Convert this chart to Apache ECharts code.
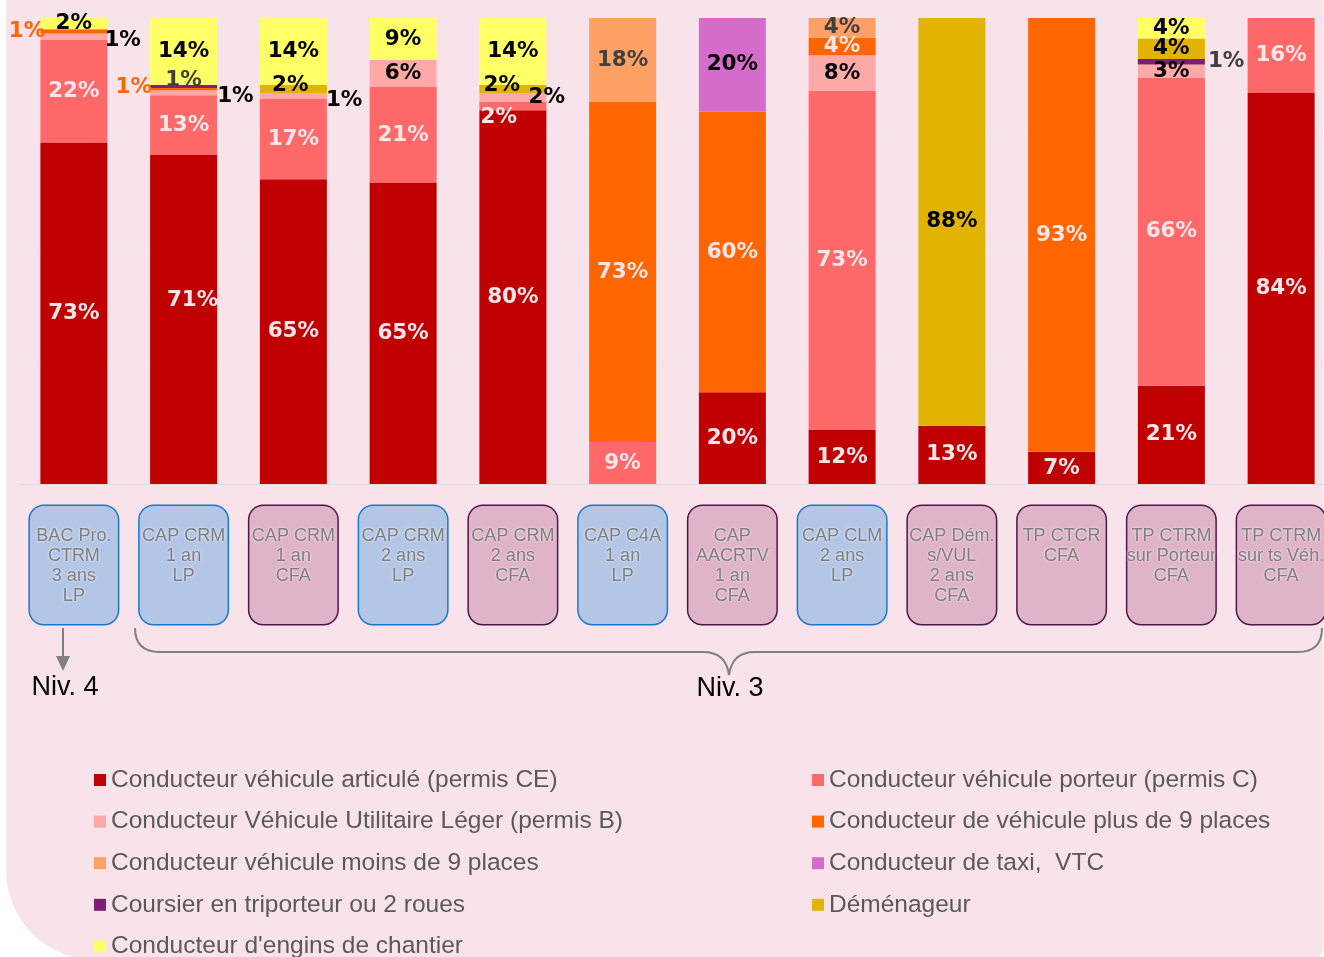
<!DOCTYPE html>
<html><head><meta charset="utf-8">
<script src="https://cdn.jsdelivr.net/npm/echarts@6/dist/echarts.min.js"></script>
<style>html,body{margin:0;padding:0;background:#fff;}#c{width:1324px;height:957px;}</style>
</head><body><div id="c"></div>
<script>
// ---------- data ----------
const categories = ['BAC Pro.\nCTRM\n3 ans\nLP', 'CAP CRM\n1 an\nLP', 'CAP CRM\n1 an\nCFA', 'CAP CRM\n2 ans\nLP', 'CAP CRM\n2 ans\nCFA', 'CAP C4A\n1 an\nLP', 'CAP\nAACRTV\n1 an\nCFA', 'CAP CLM\n2 ans\nLP', 'CAP Dém.\ns/VUL\n2 ans\nCFA', 'TP CTCR\nCFA', 'TP CTRM\nsur Porteur\nCFA', 'TP CTRM\nsur ts Véh.\nCFA'];
const schoolType = ['LP','LP','CFA','LP','CFA','LP','CFA','LP','CFA','CFA','CFA','CFA'];
const seriesNames = ['Conducteur véhicule articulé (permis CE)', 'Conducteur véhicule porteur (permis C)', 'Conducteur Véhicule Utilitaire Léger (permis B)', 'Conducteur de véhicule plus de 9 places', 'Conducteur véhicule moins de 9 places', 'Conducteur de taxi,  VTC', 'Coursier en triporteur ou 2 roues', 'Déménageur', "Conducteur d'engins de chantier"];
const articuleCE = [73.3, 70.6, 65.4, 64.6, 80.2, 0, 19.7, 11.6, 12.5, 6.9, 21.1, 84.0];
const porteurC   = [22.0, 12.8, 17.3, 20.6, 1.9, 9.0, 0, 72.8, 0, 0, 66.0, 16.0];
const vulB       = [1.4, 1.1, 1.2, 5.8, 1.7, 0, 0, 7.6, 0, 0, 2.9, 0];
const plus9      = [0.9, 0.5, 0, 0, 0, 73.0, 60.2, 3.8, 0, 93.1, 0, 0];
const moins9     = [0, 0, 0, 0, 0, 18.0, 0, 4.2, 0, 0, 0, 0];
const taxiVTC    = [0, 0, 0, 0, 0, 0, 20.1, 0, 0, 0, 0, 0];
const coursier   = [0, 0.6, 0, 0, 0, 0, 0, 0, 0, 0, 1.2, 0];
const demenageur = [0, 0, 1.7, 0, 1.8, 0, 0, 0, 87.5, 0, 4.4, 0];
const engins     = [2.4, 14.4, 14.4, 9.0, 14.4, 0, 0, 0, 0, 0, 4.4, 0];

// ---------- styles ----------
const colors = ['#C00000', '#FF6969', '#FFA8A8', '#FF6600', '#FFA064', '#D56BCA', '#7C1F72', '#E0B400', '#FFFF66'];
const labelColors = ['#F8E6EA', '#F8E6EA', '#000000', '#F8E6EA', '#404040', '#000000', '#404040', '#000000', '#000000'];
const valueSets = [articuleCE, porteurC, vulB, plus9, moins9, taxiVTC, coursier, demenageur, engins];
// label placement tweaks: series index -> category index -> label options
const labelTweaks = {
  0: {1: {offset: [9, -19]}},
  1: {4: {offset: [-14, 12]}},
  2: {0: {position: 'right', offset: [-8, 4]}, 1: {position: 'right', offset: [-5, 4]}, 2: {position: 'right', offset: [-6, 5]}, 4: {position: 'inside', offset: [34, 0]}},
  3: {0: {position: 'left', offset: [10, 0], color: '#FF6600'}, 1: {position: 'left', offset: [7, -2], color: '#FF6600'}},
  6: {1: {offset: [0, -6]}, 10: {position: 'right', offset: [-2, 0], color: '#404040'}},
  7: {2: {offset: [-3, -4]}, 4: {offset: [-11, -4]}}
};
const boxStyles = {
  LP: {backgroundColor: '#B4C6E6', borderColor: '#1878CC'},
  CFA: {backgroundColor: '#DFB3C8', borderColor: '#4E1548'}
};

const series = valueSets.map((vals, s) => ({
  name: seriesNames[s],
  type: 'bar',
  stack: 'total',
  barWidth: 67,
  itemStyle: {color: colors[s]},
  label: {
    show: true, position: 'inside', color: labelColors[s],
    fontFamily: 'DejaVu Sans', fontWeight: 'bold', fontSize: 21.5,
    formatter: p => (p.value > 0 ? Math.round(p.value) + '%' : '')
  },
  data: vals.map((v, i) => {
    const t = labelTweaks[s] && labelTweaks[s][i];
    return t ? {value: v, label: t} : v;
  })
}));

const chart = echarts.init(document.getElementById('c'), null, {renderer: 'canvas'});
const legendText = {fontFamily: 'Liberation Sans', fontSize: 24.5, color: '#595959', lineHeight: 26};
const braceStyle = {stroke: '#808080', lineWidth: 2, fill: null};
chart.setOption({
  animation: false,
  backgroundColor: 'transparent',
  grid: {left: 19, top: 18, width: 1317, height: 466, outerBoundsMode: 'none', containLabel: false},
  xAxis: {
    type: 'category',
    data: categories.map((c, i) => ({
      value: c,
      textStyle: Object.assign({
        borderWidth: 1.5, borderRadius: 14, width: 86, height: 98,
        padding: [20, 1, 0, 1], align: 'center'
      }, boxStyles[schoolType[i]])
    })),
    axisTick: {show: false},
    axisLine: {lineStyle: {color: '#D9DCE2'}},
    axisLabel: {
      interval: 0, margin: 22, fontFamily: 'Liberation Sans', fontSize: 18, lineHeight: 20,
      color: '#7F7F7F', textShadowColor: 'rgba(255,255,255,0.9)', textShadowBlur: 3
    }
  },
  yAxis: {
    type: 'value', min: 0, max: 100, interval: 25,
    axisLabel: {show: false}, axisLine: {show: false}, axisTick: {show: false},
    splitLine: {lineStyle: {color: '#ECEAEC'}}
  },
  legend: [
    {data: [seriesNames[0], seriesNames[2], seriesNames[4], seriesNames[6], seriesNames[8]],
     orient: 'vertical', left: 94, top: 767, width: 650, height: 400, padding: 0, itemGap: 15.6, itemWidth: 12, itemHeight: 12,
     icon: 'rect', selectedMode: false, textStyle: legendText},
    {data: [seriesNames[1], seriesNames[3], seriesNames[5], seriesNames[7]],
     orient: 'vertical', left: 812, top: 767, width: 500, height: 400, padding: 0, itemGap: 15.6, itemWidth: 12, itemHeight: 12,
     icon: 'rect', selectedMode: false, textStyle: legendText}
  ],
  graphic: [
    {type: 'rect', z: -100, silent: true, shape: {x: 6, y: -40, width: 1317, height: 1000, r: [0, 0, 12, 90]}, style: {fill: '#F9E3EB'}},
    {type: 'line', shape: {x1: 63, y1: 628, x2: 63, y2: 657}, style: {stroke: '#808080', lineWidth: 2}},
    {type: 'polygon', shape: {points: [[56, 656], [70, 656], [63, 671]]}, style: {fill: '#808080'}},
    {type: 'bezierCurve', shape: {x1: 135, y1: 628, cpx1: 135, cpy1: 652, x2: 160, y2: 652}, style: braceStyle},
    {type: 'line', shape: {x1: 160, y1: 652, x2: 703, y2: 652}, style: braceStyle},
    {type: 'bezierCurve', shape: {x1: 703, y1: 652, cpx1: 726, cpy1: 652, x2: 729, y2: 675}, style: braceStyle},
    {type: 'bezierCurve', shape: {x1: 729, y1: 675, cpx1: 732, cpy1: 652, x2: 755, y2: 652}, style: braceStyle},
    {type: 'line', shape: {x1: 755, y1: 652, x2: 1298, y2: 652}, style: braceStyle},
    {type: 'bezierCurve', shape: {x1: 1298, y1: 652, cpx1: 1322, cpy1: 652, x2: 1322, y2: 628}, style: braceStyle},
    {type: 'text', x: 65, y: 688, style: {text: 'Niv. 4', fontFamily: 'Liberation Sans', fontSize: 27, fill: '#000', align: 'center', verticalAlign: 'middle'}},
    {type: 'text', x: 730, y: 689, style: {text: 'Niv. 3', fontFamily: 'Liberation Sans', fontSize: 27, fill: '#000', align: 'center', verticalAlign: 'middle'}}
  ],
  series: series
});
</script></body></html>
